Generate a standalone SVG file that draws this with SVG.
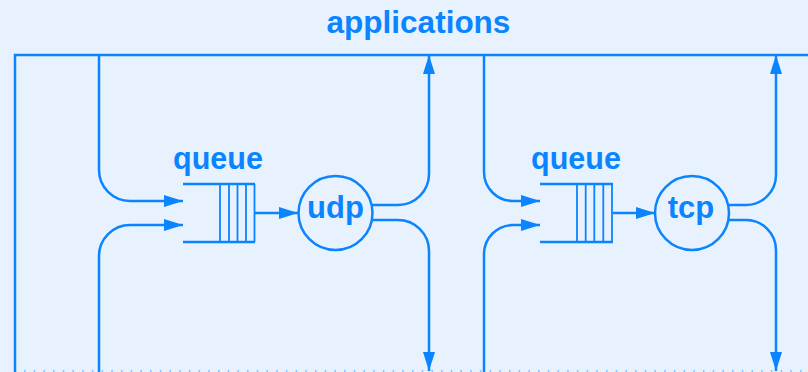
<svg xmlns="http://www.w3.org/2000/svg" width="808" height="372" viewBox="0 0 808 372">
  <style>
    .ln { fill: none; stroke: #0a84ff; stroke-width: 2.5; }
    .thin { fill: none; stroke: #0a84ff; stroke-width: 1.8; }
    .lbl { font-family: "Liberation Sans", Arial, sans-serif; font-weight: bold; fill: #0a84ff; text-anchor: middle; }
    .dots { fill: none; stroke: #6aadff; stroke-width: 1.5; stroke-dasharray: 1.5 8.2; }
  </style>
  <defs>
    <marker id="arrow" markerUnits="userSpaceOnUse" markerWidth="19" markerHeight="12" refX="19" refY="6" orient="auto">
      <path d="M0,0 L19,6 L0,12 z" fill="#0a84ff"/>
    </marker>
  </defs>
  <rect width="808" height="372" fill="#e8f2fe"/>

  <!-- boundary: applications layer above, network layer below -->
  <g id="frame">
    <path class="ln" d="M15,372 V55 H808"/>
    <path class="dots" d="M24,371 H808"/>
    <text class="lbl" x="418.5" y="33" font-size="31.5">applications</text>
  </g>

  <g id="queue-udp">
    <path class="ln" d="M183,184 H255 M183,242 H255"/>
    <path class="thin" d="M220,184 V242 M229,184 V242 M237.5,184 V242 M246,184 V242 M254.5,184 V242"/>
    <text class="lbl" x="218" y="168.5" font-size="30.5">queue</text>
  </g>

  <g id="udp">
    <circle class="ln" cx="335.5" cy="213" r="37"/>
    <text class="lbl" x="335.5" y="218" font-size="31">udp</text>
  </g>

  <g id="queue-tcp">
    <path class="ln" d="M540,184 H613 M540,242 H613"/>
    <path class="thin" d="M577,184 V242 M585.7,184 V242 M594.3,184 V242 M603.3,184 V242 M612,184 V242"/>
    <text class="lbl" x="576" y="169" font-size="30.5">queue</text>
  </g>

  <g id="tcp">
    <circle class="ln" cx="692" cy="213" r="37"/>
    <text class="lbl" x="691" y="218" font-size="31">tcp</text>
  </g>

  <g id="connectors">
    <!-- udp side -->
    <path class="ln" marker-end="url(#arrow)" d="M99,55 V170 A31,31 0 0 0 130,201 H183"/>
    <path class="ln" marker-end="url(#arrow)" d="M99,372 V256 A31,31 0 0 1 130,225 H183"/>
    <path class="ln" marker-end="url(#arrow)" d="M255,213 H298"/>
    <path class="ln" marker-end="url(#arrow)" d="M372,205 H398 A31,31 0 0 0 429,174 V55"/>
    <path class="ln" marker-end="url(#arrow)" d="M372,220 H398 A31,31 0 0 1 429,251 V371"/>
    <!-- tcp side -->
    <path class="ln" marker-end="url(#arrow)" d="M484,55 V172 A29,29 0 0 0 513,201 H540"/>
    <path class="ln" marker-end="url(#arrow)" d="M484,372 V254 A29,29 0 0 1 513,225 H540"/>
    <path class="ln" marker-end="url(#arrow)" d="M613,213 H655"/>
    <path class="ln" marker-end="url(#arrow)" d="M729,205 H746 A30,30 0 0 0 776,175 V55"/>
    <path class="ln" marker-end="url(#arrow)" d="M729,220 H746 A30,30 0 0 1 776,250 V371"/>
  </g>
</svg>
